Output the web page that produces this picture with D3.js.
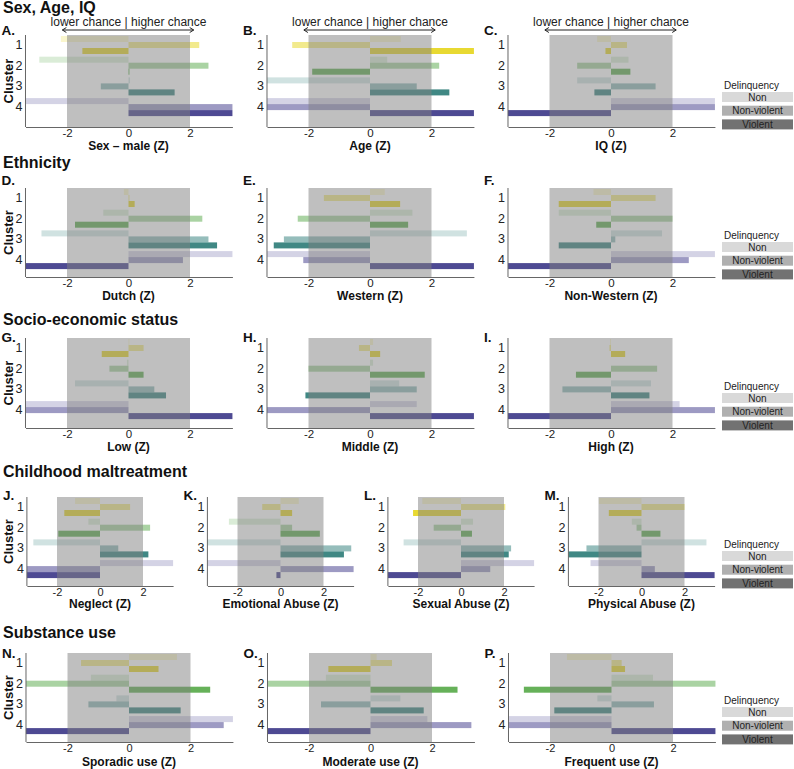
<!DOCTYPE html>
<html><head><meta charset="utf-8">
<script src="https://cdn.jsdelivr.net/npm/d3@7"></script>
<style>body{margin:0;background:#fff;} svg{display:block;font-family:"Liberation Sans",Arial,sans-serif;}</style>
</head><body><svg id="chart" width="794" height="769"></svg>
<script>
// ---------- DATA ----------
const clusters = [1, 2, 3, 4];
const delinquency = ["Non", "Non-violent", "Violent"];
const tickValues = [-2, 0, 2];
const sectionTitles = ["Sex, Age, IQ", "Ethnicity", "Socio-economic status", "Childhood maltreatment", "Substance use"];
const panelLetters = ["A.","B.","C.","D.","E.","F.","G.","H.","I.","J.","K.","L.","M.","N.","O.","P."];
const panelLabels = ["Sex \u2013 male (Z)","Age (Z)","IQ (Z)","Dutch (Z)","Western (Z)","Non-Western (Z)",
  "Low (Z)","Middle (Z)","High (Z)","Neglect (Z)","Emotional Abuse (Z)","Sexual Abuse (Z)","Physical Abuse (Z)",
  "Sporadic use (Z)","Moderate use (Z)","Frequent use (Z)"];
// Z values per panel, clusters 1..4 (values beyond the axis are clipped)
const nonValues = [
  [-2.2, -2.9, 0.05, -3.5],   // A
  [1.0, 0.56, -3.5, -3.5],    // B
  [-0.45, 0.57, -1.1, 3.5],   // C
  [-0.15, -0.82, -2.83, 3.5], // D
  [0.48, 1.38, 3.15, -3.5],   // E
  [-0.57, -1.7, 1.66, 3.5],   // F
  [0.03, -0.05, -1.74, -3.5], // G
  [0.1, 0.1, 0.95, 1.52],     // H
  [-0.03, 0.0, 1.3, 2.23],    // I
  [-1.16, -0.54, -3.1, 3.5],  // J
  [0.85, -2.4, -3.5, -3.5],   // K
  [-1.8, 0.56, -2.67, 3.5],   // L
  [-1.98, -0.45, 3.02, -2.37],// M
  [1.56, -1.24, -0.41, 3.5],  // N
  [0.2, -1.45, 0.97, 1.85],   // O
  [-1.45, 1.35, -0.46, -3.5]  // P
];
const nonViolentValues = [
  [2.3, 2.6, -0.9, 3.5],
  [-2.53, 2.25, 1.52, -3.5],
  [0.52, -1.1, 1.45, 3.5],
  [0.03, 2.4, 2.6, 1.77],
  [-1.5, -2.35, -2.8, -2.17],
  [1.45, 2.0, 0.14, 2.53],
  [0.49, -0.62, 0.84, -3.5],
  [-0.36, -2.0, 1.52, -3.5],
  [-0.05, 1.5, -1.58, 3.5],
  [1.4, 2.33, 0.85, -3.5],
  [-0.85, 0.54, 3.29, 3.5],
  [2.06, -1.27, 2.33, 1.36],
  [2.0, -0.23, -2.56, 0.62],
  [-1.56, -3.5, -1.32, 3.08],
  [0.7, -3.5, -1.61, 3.28],
  [0.33, 3.5, 1.38, -3.5]
];
const violentValues = [
  [-1.5, 0.03, 1.5, 3.5],
  [3.5, -1.88, 2.58, 3.5],
  [-0.18, 0.63, -0.54, -3.5],
  [0.2, -1.74, 2.88, -3.5],
  [0.98, 1.24, -3.13, 3.5],
  [-1.7, -0.48, -1.7, -3.5],
  [-0.87, 0.49, 1.22, 3.5],
  [0.33, 1.78, -2.1, 3.5],
  [0.46, -1.14, 1.25, -3.5],
  [-1.66, -1.94, 2.25, -3.5],
  [0.54, 1.83, 2.95, -0.19],
  [-2.23, 0.51, 2.22, -3.5],
  [-1.52, 0.88, -3.5, 3.5],
  [0.96, 2.64, 1.68, -3.5],
  [-1.37, 2.83, 1.73, -3.5],
  [0.44, -2.85, -1.86, 3.5]
];

// ---------- STYLE / LAYOUT ----------
const clusterColors = ["#e6d51c", "#55a847", "#2b7b77", "#3b3687"];
const delinquencyOpacity = [0.22, 0.5, 0.9];
const legendColors = ["#d9d9d9", "#b0b0b0", "#727272"];
const font = '"Liberation Sans", Arial, sans-serif';

const rows = [
  {title:0, titleY:13,  letterY:35,  top:35,  axis:127, panels:[0,1,2],     zeros:[128.5,370,611],          unit:30.75, dom:[-3.35,3.38], header:true, lab:22.5},
  {title:1, titleY:168, letterY:185, top:188, axis:277, panels:[3,4,5],     zeros:[128.5,370,611],          unit:30.75, dom:[-3.35,3.38], lab:22.5},
  {title:2, titleY:325, letterY:342, top:338, axis:428, panels:[6,7,8],     zeros:[128.5,370,611],          unit:30.75, dom:[-3.35,3.38], lab:22.5},
  {title:3, titleY:477, letterY:500, top:497, axis:586, panels:[9,10,11,12],zeros:[100,280.5,461,641.5],    unit:21.5,  dom:[-3.4,3.4], small:true, lab:22},
  {title:4, titleY:638, letterY:658, top:653, axis:742, panels:[13,14,15],  zeros:[129,370.5,611.5],        unit:30.75, dom:[-3.35,3.38], small:true, lab:23.5}
];

const svg = d3.select("#chart");

rows.forEach(row => {
  svg.append("text").attr("x", 3).attr("y", row.titleY)
    .attr("font-size", 16).attr("font-weight", "bold").attr("fill", "#111")
    .text(sectionTitles[row.title]);

  row.panels.forEach((p, i) => {
    const zero = row.zeros[i];
    const x = d3.scaleLinear().domain(row.dom)
      .range([zero + row.dom[0] * row.unit, zero + row.dom[1] * row.unit]).clamp(true);
    const y = d3.scaleBand().domain(clusters)
      .range([row.top + 1, row.top + 1 + 3 * 20.7 + 18]).paddingInner(0.13).paddingOuter(0);
    const sub = d3.scaleBand().domain(delinquency).range([0, y.bandwidth()]);
    const g = svg.append("g");
    const series = [nonValues[p], nonViolentValues[p], violentValues[p]];

    // bars
    delinquency.forEach((d, j) => {
      g.selectAll(null).data(clusters).enter().append("rect")
        .attr("x", c => Math.min(x(0), x(series[j][c - 1])))
        .attr("width", c => Math.abs(x(series[j][c - 1]) - x(0)))
        .attr("y", c => y(c) + sub(d))
        .attr("height", sub.bandwidth())
        .attr("fill", c => clusterColors[c - 1])
        .attr("fill-opacity", delinquencyOpacity[j]);
    });

    // grey band -2..2
    g.append("rect").attr("x", x(-2)).attr("width", x(2) - x(-2))
      .attr("y", row.top).attr("height", row.axis - row.top)
      .attr("fill", "#808080").attr("fill-opacity", 0.5);

    // axes
    const xAxis = d3.axisBottom(x).tickValues(tickValues).tickSize(0).tickPadding(2)
      .tickFormat(d => String(d));
    const xg = g.append("g").attr("transform", `translate(0,${row.axis})`).call(xAxis);
    xg.select(".domain").attr("stroke", "#666");
    xg.selectAll("text").attr("font-size", row.small ? 11 : 11.5).attr("font-family", font).attr("fill", "#222");

    const yAxis = d3.axisLeft(y).tickSize(0).tickPadding(3);
    const yg = g.append("g").attr("transform", `translate(${x.range()[0]},0)`).call(yAxis);
    yg.select(".domain").remove();
    yg.selectAll("text").attr("font-size", 12.5).attr("font-family", font).attr("fill", "#222");
    g.append("line").attr("x1", x.range()[0]).attr("x2", x.range()[0])
      .attr("y1", row.top).attr("y2", row.axis).attr("stroke", "#666");

    // x label
    g.append("text").attr("x", x(0)).attr("y", row.axis + row.lab).attr("text-anchor", "middle")
      .attr("font-size", 12).attr("font-weight", "bold").attr("fill", "#111")
      .text(panelLabels[p]);

    // panel letter
    g.append("text").attr("x", x.range()[0] - 24).attr("y", row.letterY)
      .attr("font-size", 13.5).attr("font-weight", "bold").attr("fill", "#111")
      .text(panelLetters[p]);

    // Cluster label on the first column
    if (i === 0) {
      g.append("text").attr("transform", `translate(13,${(row.top + row.axis) / 2}) rotate(-90)`)
        .attr("text-anchor", "middle").attr("font-size", 13).attr("font-weight", "bold").attr("fill", "#111")
        .text("Cluster");
    }

    // header arrow
    if (row.header) {
      g.append("text").attr("x", x(0)).attr("y", 26).attr("text-anchor", "middle")
        .attr("font-size", 12).attr("fill", "#222").text("lower chance | higher chance");
      const xa = x(-2.15), xb = x(2.12), ya = 30;
      g.append("line").attr("x1", xa).attr("x2", xb).attr("y1", ya).attr("y2", ya).attr("stroke", "#222");
      g.append("path").attr("d", `M${xa + 4},${ya - 2.5}L${xa},${ya}L${xa + 4},${ya + 2.5}`)
        .attr("fill", "none").attr("stroke", "#222");
      g.append("path").attr("d", `M${xb - 4},${ya - 2.5}L${xb},${ya}L${xb - 4},${ya + 2.5}`)
        .attr("fill", "none").attr("stroke", "#222");
    }
  });

  // legend
  const lg = svg.append("g").attr("transform", `translate(722,${row.axis - 35})`);
  lg.append("text").attr("x", 2).attr("y", -3).attr("font-size", 10).attr("fill", "#222").text("Delinquency");
  delinquency.forEach((d, j) => {
    lg.append("rect").attr("x", 0).attr("y", j * 13.7).attr("width", 71).attr("height", 10)
      .attr("fill", legendColors[j]);
    lg.append("text").attr("x", 35.5).attr("y", j * 13.7 + 8.6).attr("text-anchor", "middle")
      .attr("font-size", 10).attr("fill", "#222").text(d);
  });
});
</script></body></html>
